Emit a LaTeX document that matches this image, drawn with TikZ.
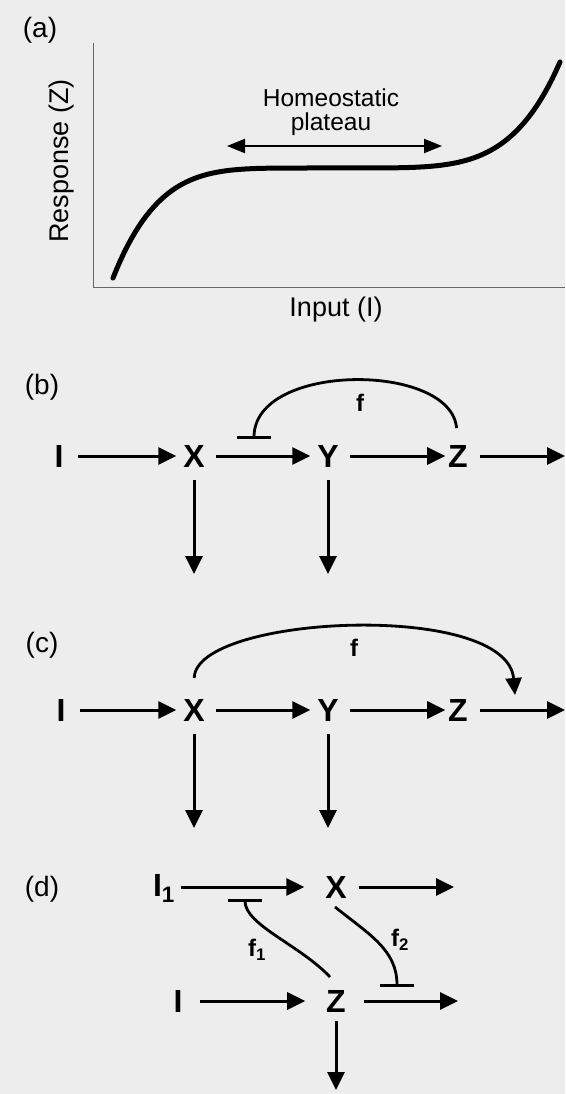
\documentclass[tikz,border=0pt]{standalone}
\usepackage{fontspec}
\setmainfont{Liberation Sans}
\usetikzlibrary{arrows.meta}
\begin{document}
\begin{tikzpicture}[x=1pt,y=-1pt,
  every node/.style={inner sep=0pt, outer sep=0pt},
  plab/.style={font=\fontsize{28}{28}\selectfont},
  axl/.style={font=\fontsize{27}{27}\selectfont},
  hom/.style={font=\fontsize{24.5}{24}\selectfont, align=center},
  var/.style={font=\fontsize{32}{32}\selectfont\bfseries},
  flab/.style={font=\fontsize{24}{24}\selectfont\bfseries},
  axisline/.style={line width=1pt, draw=black!60},
  resp/.style={line width=5pt, line cap=round},
  plat/.style={line width=2.2pt, {Triangle[length=18pt,width=14pt]}-{Triangle[length=18pt,width=14pt]}},
  arr/.style={line width=3pt, -{Triangle[length=18pt,width=17pt]}},
  harr/.style={arr, shorten <=11pt, shorten >=7pt},
  fb/.style={line width=2.8pt},
  inh/.style={fb, -{Bar[width=34pt]}},
  act/.style={fb, -{Triangle[length=17pt,width=16pt]}},
]
\useasboundingbox (0,0) rectangle (565,1094);
\fill[black!7] (0,0) rectangle (565,1094);

% ---------- (a)
\node[plab] (la) at (40,30) {(a)};
\coordinate (yt) at (93,43);
\coordinate (o) at (93,287);
\coordinate (xr) at (565,287);
\draw[axisline] (yt) -- (o) -- (xr);
\node[axl, rotate=90] (ylab) at (62,161) {Response (Z)};
\node[axl] (xlab) at (336,310) {Input (I)};
\node[hom] (hp) at (331,112) {Homeostatic\\plateau};
\coordinate (pl) at (227,146);
\coordinate (pr) at (442,146);
\draw[plat] (pl) -- (pr);
\draw[resp] plot[domain=113:329.9,samples=60] (\x,{168+110*((330-\x)/217)^5})
  -- plot[domain=330.1:560,samples=60] (\x,{168-106*((\x-330)/230)^5});

% ---------- (b)
\node[plab] (lb) at (42,387) {(b)};
\node[var] (bI) at (59,456) {I};
\node[var] (bX) at (194,456) {X};
\node[var] (bY) at (328,456) {Y};
\node[var] (bZ) at (458,456) {Z};
\coordinate (bZo) at (565,456);
\coordinate (bXd) at (194,574);
\coordinate (bYd) at (328,574);
\coordinate (bbar) at (254,439);
\draw[harr, shorten <=15pt] (bI) -- (bX);
\draw[harr] (bX) -- (bY);
\draw[harr, shorten >=3pt] (bY) -- (bZ);
\draw[arr, shorten <=12pt] (bZ) -- (bZo);
\draw[arr, shorten <=13pt] (bX) -- (bXd);
\draw[arr, shorten <=13pt] (bY) -- (bYd);
\draw[inh, shorten <=17pt] (bZ.north) .. controls (451,362) and (254,362) .. (bbar);
\node[flab] (bf) at (360,403) {f};

% ---------- (c)
\node[plab] (lc) at (42,645) {(c)};
\node[var] (cI) at (61,710) {I};
\node[var] (cX) at (194,710) {X};
\node[var] (cY) at (328,710) {Y};
\node[var] (cZ) at (458,710) {Z};
\coordinate (cZo) at (565,710);
\coordinate (cXd) at (194,828);
\coordinate (cYd) at (328,828);
\coordinate (cft) at (515,695);
\draw[harr, shorten <=15pt] (cI) -- (cX);
\draw[harr] (cX) -- (cY);
\draw[harr, shorten >=3pt] (cY) -- (cZ);
\draw[arr, shorten <=12pt] (cZ) -- (cZo);
\draw[arr, shorten <=13pt] (cX) -- (cXd);
\draw[arr, shorten <=13pt] (cY) -- (cYd);
\draw[act, shorten <=21pt] (cX.north) .. controls (195,615) and (507,600) .. (cft);
\node[flab] (cf) at (354,648) {f};

% ---------- (d)
\node[plab] (ld) at (42,889) {(d)};
\node[var, anchor=base west] (dI1) at (153,896) {I\textsubscript{1}};
\node[var] (dX) at (336,887) {X};
\node[var] (dI) at (178,1001) {I};
\node[var] (dZ) at (336,1001) {Z};
\coordinate (dXo) at (454,887);
\coordinate (dZo) at (458,1001);
\coordinate (dZd) at (336,1090);
\coordinate (f1a) at (330,977);
\coordinate (f1b) at (245,899);
\coordinate (f2a) at (335,907);
\coordinate (f2b) at (397,987);
\draw[arr, shorten <=6pt, shorten >=21pt] (dI1.east |- dX.west) -- (dX.west);
\draw[arr, shorten <=12pt] (dX) -- (dXo);
\draw[arr, shorten <=18pt, shorten >=21pt] (dI) -- (dZ);
\draw[arr, shorten <=18pt] (dZ) -- (dZo);
\draw[arr, shorten <=9pt] (dZ) -- (dZd);
\draw[inh] (f1a) .. controls (300,945) and (245,925) .. (f1b);
\draw[inh] (f2a) .. controls (370,935) and (397,950) .. (f2b);
\node[flab] (f1) at (257,950) {f\textsubscript{1}};
\node[flab] (f2) at (400,940) {f\textsubscript{2}};
\end{tikzpicture}
\end{document}
